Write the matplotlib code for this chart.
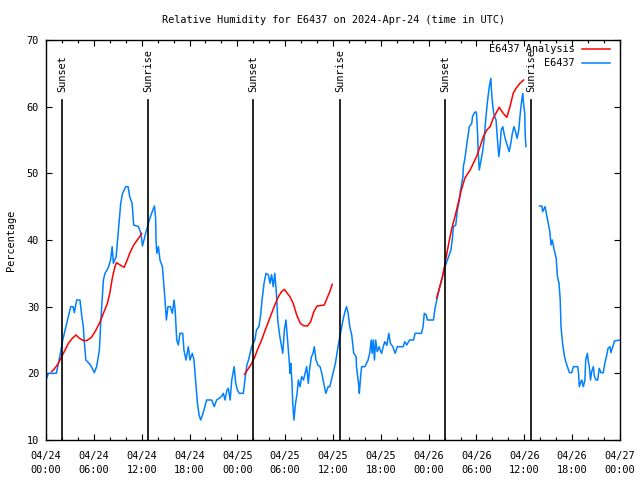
import numpy as np
import matplotlib
matplotlib.use("Agg")
import matplotlib.pyplot as plt
from matplotlib.lines import Line2D

plt.rcParams['font.family'] = ['DejaVu Sans Mono']

# hours since 2024-04-24 00:00 UTC
obs_t = [0.0, 0.3, 1.3, 1.55, 1.84, 2.1, 2.4, 2.7, 3.1, 3.4, 3.55, 3.85, 4.26, 4.47, 4.68, 4.8, 5.0, 5.4, 5.7, 6.06,
         6.35, 6.7, 6.86, 7.07, 7.2, 7.4, 7.8, 8.1, 8.3, 8.45, 8.8, 9.07, 9.37, 9.6, 10.0, 10.3, 10.5, 10.8, 11.0, 11.6,
         11.9, 12.1, 12.5, 12.96, 13.4, 13.6, 13.75, 13.8, 13.9, 14.1, 14.3, 14.6, 14.9, 15.1, 15.3, 15.6, 15.85, 16.06,
         16.2, 16.4, 16.6, 16.8, 17.15, 17.3, 17.56, 17.85, 18.06, 18.35, 18.56, 18.8, 19.0, 19.2, 19.4, 19.7, 20.15,
         20.8, 21.1, 21.4, 22.0, 22.25, 22.45, 22.7, 22.87, 23.1, 23.3, 23.6, 23.8, 24.0, 24.25, 24.75, 25.0, 25.2, 25.4,
         25.6, 25.8, 26.2, 26.4, 26.7, 26.9, 27.1, 27.35, 27.6, 27.9, 28.1, 28.3, 28.5, 28.7, 28.9, 29.07, 29.3, 29.55,
         29.7, 29.9, 30.1, 30.3, 30.5, 30.6, 30.7, 30.86, 30.95, 31.1, 31.3, 31.5, 31.65, 31.86, 32.07, 32.3, 32.5, 32.7,
         32.9, 33.1, 33.3, 33.5, 33.65, 33.87, 34.1, 34.37, 34.6, 34.8, 35.1, 35.4, 35.6, 35.8, 36.0, 36.3, 36.5, 36.7,
         36.9, 37.1, 37.3, 37.5, 37.7, 37.9, 38.1, 38.35, 38.6, 38.9, 38.95, 39.1, 39.25, 39.3, 39.5, 39.6, 40.0, 40.2,
         40.4, 40.6, 40.8, 40.9, 41.05, 41.2, 41.35, 41.55, 41.8, 41.9, 42.1, 42.3, 42.5, 42.75, 43.0, 43.2, 43.5, 43.65,
         43.8, 44.07, 44.8, 45.0, 45.25, 45.6, 46.1, 46.3, 47.1, 47.3, 47.45, 47.7, 47.85, 48.6, 48.8, 49.2, 49.6, 50.05,
         50.5, 50.8, 51.0, 51.1, 51.4, 51.6, 51.85, 52.0, 52.3, 52.35, 52.55, 52.8, 53.1, 53.4, 53.5, 53.7, 53.9, 54.0,
         54.15, 54.2, 54.35, 54.5, 54.8, 54.95, 55.15, 55.35, 55.6, 55.8, 55.9, 56.05, 56.2, 56.45, 56.6, 56.8, 56.95,
         57.1, 57.3, 57.45, 57.65, 57.85, 58.1, 58.3, 58.5, 58.7, 58.9, 59.1, 59.3, 59.45, 59.6, 59.8, 59.9, 60.05, 60.1,
         60.2, 61.0,
         61.9, 62.2, 62.3, 62.5, 62.6, 62.8, 63.0, 63.2, 63.35, 63.5, 63.75, 64.0, 64.15, 64.35, 64.5, 64.6, 64.8, 65.0,
         65.2, 65.4, 65.65, 65.95, 66.15, 66.7, 66.8, 66.9, 67.1, 67.2, 67.4, 67.6, 67.7, 67.9, 68.0, 68.15, 68.3, 68.45,
         68.65, 68.8, 69.0, 69.2, 69.4, 69.6, 69.9, 70.1, 70.3, 70.5, 70.75, 70.85, 71.1, 71.3, 72.0]
obs_v = [19.0, 20.0, 20.0, 21.5, 23.2, 25, 26.5, 28, 30, 30, 29.1, 31, 31, 28.75, 27, 24.75, 22, 21.5, 21, 20.1,
         21, 23.5, 27.5, 31.5, 34, 35, 35.8, 37, 39, 36.5, 37.5, 41.25, 45.5, 47, 48, 48, 46.5, 45.5, 42.25, 42,
         41, 39.1, 41, 43, 44.5, 45.1, 43.3, 40, 38, 39, 37, 36, 31.5, 28, 30, 30, 29, 31,
         29.5, 25, 24.25, 26, 26, 23.5, 22, 24, 22, 23, 22, 18.5, 15.5, 13.75, 13, 14, 16,
         16, 15, 16, 16.5, 17, 16, 17.5, 17.75, 16, 19, 21, 18.5, 17.5, 17, 17, 19.5, 21.25, 22,
         23, 24, 25, 26.5, 27, 28.5, 31, 33.5, 35, 34.75, 33.5, 34.8, 33, 35, 32, 28, 25.75, 24,
         23, 26.5, 28, 25, 22, 20, 21.5, 18.5, 15.5, 13, 15.5, 17, 19, 18, 19.5, 19, 20, 21,
         18.5, 21, 22.5, 23, 24, 22, 21.25, 21, 20, 18.75, 17, 18, 18, 19, 20, 21.5, 23, 24.5,
         25.75, 27, 28.25, 29.25, 30, 29, 27, 25.75, 23, 22.5, 21, 19.5, 18, 17, 20, 21, 21, 21.5,
         22, 23, 25, 23, 25, 22, 25, 23.25, 24, 23.5, 23, 24, 24.75, 24.2, 26, 24.5, 24, 23.5,
         23, 24, 24, 24.75, 24.25, 25, 25, 26, 26, 27, 29, 28.75, 28, 28, 29.75, 32, 34, 36,
         37.5, 38.5, 40.5, 42, 42.25, 44.5, 46, 47.5, 49.5, 51, 52.25, 54.5, 57, 57.5, 58.5, 59, 59.25, 59,
         55.5, 53.5, 50.5, 51.5, 53.5, 55, 58, 60.5, 63, 64.25, 62, 60, 58.75, 58, 55.5, 52.5, 54,
         56.5, 57, 56, 55, 54.25, 53.25, 54.5, 56, 57, 56.25, 55.25, 56.5, 58.5, 60.25, 62, 60.5, 59, 56,
         54, np.nan,
         45.1, 45.1, 44.25, 44.75, 45, 43.75, 42.5, 41.25, 39.25, 40, 38.5, 37.25, 34.5, 33.5, 31, 27, 24.5, 22.75,
         21.75, 21, 20.1, 20.1, 21, 21, 20, 18, 18.75, 19, 18, 19, 22, 23, 22, 21, 19, 20.25,
         21, 19.5, 19, 19, 20.75, 20.1, 20.1, 21.5, 22.5, 23.75, 24, 23.1, 24, 24.85, 25]

ana_t = [0.7, 1.1, 1.55, 1.96, 2.4, 2.8, 3.3, 3.75, 4.2, 4.7, 5.1, 5.7, 6.15, 6.7, 7.2, 7.7, 8.0, 8.35, 8.65, 8.85,
         9.3, 9.8, 10.1, 10.5, 11.0, 11.45, 11.8, 12.0, 18.0,
         24.9, 25.4, 25.8, 26.2, 26.6, 27.05, 27.5, 27.9, 28.3, 28.7, 29.15, 29.55, 29.9, 30.2, 30.6, 31.0, 31.45,
         31.9, 32.3, 32.8, 33.2, 33.6, 34.0, 34.9, 35.3, 35.6, 35.9, 42.0,
         49.0, 49.75, 50.2, 50.6, 50.9, 51.3, 51.7, 52.1, 52.55, 53.2, 53.4, 54.0, 54.45, 54.85, 55.3, 55.7, 56.1,
         56.55, 56.85, 57.35, 57.8, 58.2, 58.6, 58.95, 59.45, 59.9]
ana_v = [20.25, 20.75, 21.5, 22.5, 23.5, 24.5, 25.25, 25.75, 25.25, 24.9, 24.9, 25.4, 26.25, 27.5, 29, 30.5, 32, 34.5, 36, 36.6,
         36.25, 35.9, 36.75, 38, 39.25, 40, 40.6, 41.0, np.nan,
         19.85, 20.75, 21.5, 22.5, 23.75, 25, 26.5, 27.75, 29, 30.25, 31.5, 32.25, 32.6, 32.1, 31.5, 30.5, 28.75,
         27.5, 27.15, 27.1, 27.75, 29.25, 30.1, 30.25, 31.4, 32.25, 33.35, np.nan,
         31.3, 34.5, 37.5, 40, 41.75, 43.5, 45.5, 47.5, 49.3, 50.5, 51, 52.5, 54, 55.5, 56.5, 57, 58.25,
         59.25, 59.9, 59, 58.4, 60, 62, 62.75, 63.5, 64]

sun_t = [2.0, 12.8, 26.0, 36.9, 50.05, 60.85]
sun_lab = ["Sunset", "Sunrise", "Sunset", "Sunrise", "Sunset", "Sunrise"]

xtick_pos = [0, 6, 12, 18, 24, 30, 36, 42, 48, 54, 60, 66, 72]
xtick_lab = ["04/24\n00:00", "04/24\n06:00", "04/24\n12:00", "04/24\n18:00",
             "04/25\n00:00", "04/25\n06:00", "04/25\n12:00", "04/25\n18:00",
             "04/26\n00:00", "04/26\n06:00", "04/26\n12:00", "04/26\n18:00",
             "04/27\n00:00"]
ytick_pos = [10, 20, 30, 40, 50, 60, 70]

fs = 7.4
fig = plt.figure(figsize=(6.4, 4.8), dpi=100)
ax = fig.add_axes([46/640, 40/480, 574/640, 400/480])

red = '#ff0000'
blue = '#0080ff'
ax.plot(ana_t, ana_v, color=red, lw=1.1, zorder=3)
ax.plot(obs_t, obs_v, color=blue, lw=1.1, zorder=2)

for t, lab in zip(sun_t, sun_lab):
    ax.plot([t, t], [10, 61], color='black', lw=1.2, zorder=4)
    ax.text(t, 62.2, lab, rotation=90, ha='center', va='bottom', fontsize=fs, color='black')

ax.set_xlim(0, 72)
ax.set_ylim(10, 70)
ax.set_xticks(xtick_pos)
ax.set_xticklabels(xtick_lab, fontsize=fs, linespacing=1.5)
ax.set_xticks(np.arange(0, 73, 2), minor=True)
ax.set_yticks(ytick_pos)
ax.set_yticklabels([str(v) for v in ytick_pos], fontsize=fs)
ax.tick_params(which='both', direction='in', top=True, right=True, colors='black')
ax.tick_params(which='major', length=4.5, width=0.8)
ax.tick_params(axis='x', which='major', pad=8)
ax.tick_params(axis='y', which='major', pad=5)
ax.tick_params(which='minor', length=2.5, width=0.8)
for s in ax.spines.values():
    s.set_linewidth(1.0)

ax.set_ylabel("Percentage", fontsize=fs, labelpad=8)
ax.set_title("Relative Humidity for E6437 on 2024-Apr-24 (time in UTC)", fontsize=fs, pad=12)

# legend (gnuplot style, right-aligned text)
ax.text(0.9216, 0.9775, "E6437 Analysis", transform=ax.transAxes, ha='right', va='center', fontsize=fs)
ax.text(0.9216, 0.9425, "E6437", transform=ax.transAxes, ha='right', va='center', fontsize=fs)
ax.add_line(Line2D([0.934, 0.983], [0.9775, 0.9775], transform=ax.transAxes, color=red, lw=1.1))
ax.add_line(Line2D([0.934, 0.983], [0.9425, 0.9425], transform=ax.transAxes, color=blue, lw=1.1))

fig.savefig("out.png", dpi=100)
